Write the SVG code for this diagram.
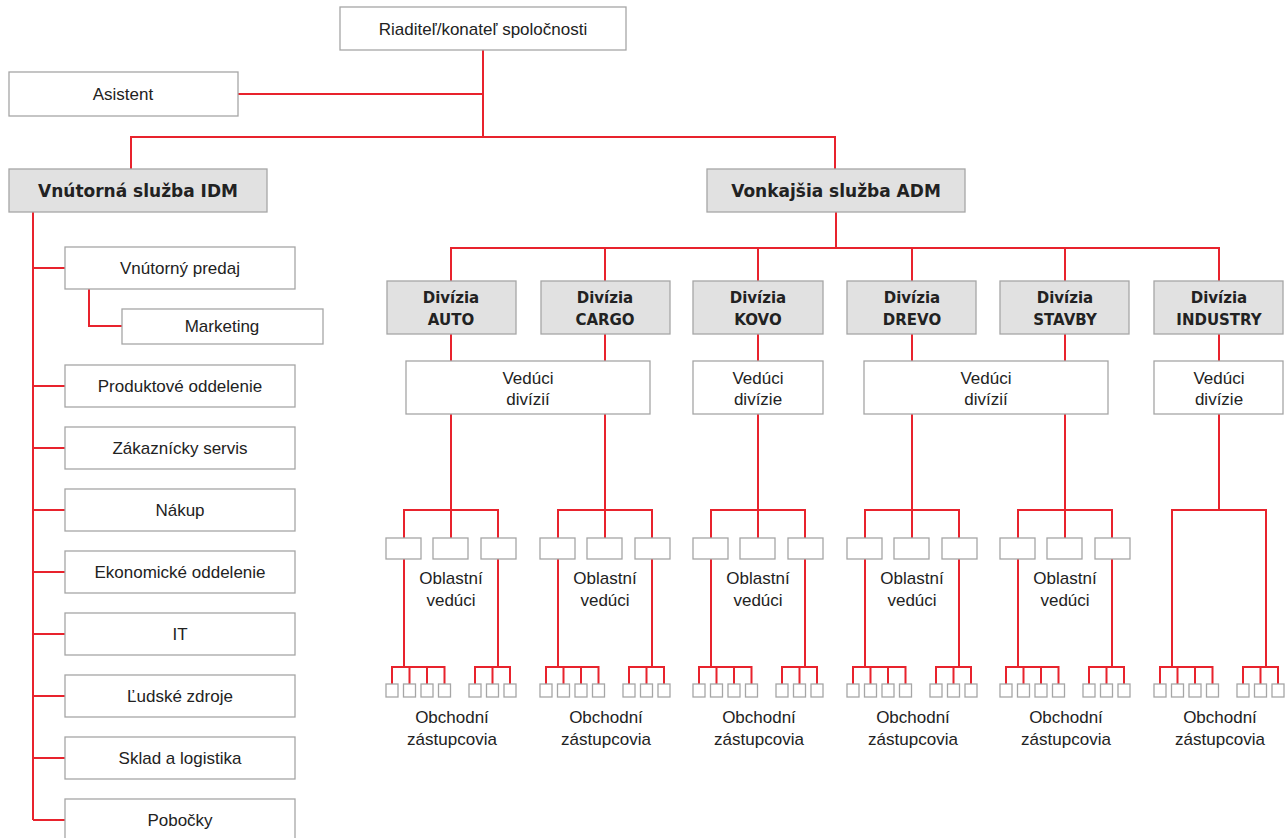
<svg xmlns="http://www.w3.org/2000/svg" width="1287" height="838" viewBox="0 0 1287 838">
<style>
.b{fill:#fff;stroke:#a6a6a6;stroke-width:1.3}
.g{fill:#e1e1e1;stroke:#a6a6a6;stroke-width:1.3}
.t{font-family:"Liberation Sans",Arial,sans-serif;font-size:17px;fill:#222;text-anchor:middle}
.h{font-family:"DejaVu Sans",sans-serif;font-weight:bold;font-size:17px;fill:#222;text-anchor:middle}
.d{font-family:"DejaVu Sans",sans-serif;font-weight:bold;font-size:15px;fill:#222;text-anchor:middle}
.c path{fill:none;stroke:#e8232d;stroke-width:2}
</style>
<rect width="1287" height="838" fill="#fff"/>
<g class="c" id="connectors">
<path d="M483 50V137M238 94H483M131 170V137H835V169"/>
<path d="M33 211V820M33 268H65M89 289V326H122M33 386H65M33 448H65M33 510H65M33 572H65M33 634H65M33 696H65M33 758H65M33 820H65"/>
<path d="M836 212V248M451 281V248H1219V281M605 248V281M758 248V281M912 248V281M1065 248V281"/>
<path d="M451 334V361M605 334V361M758 334V361M912 334V361M1065 334V361M1219 334V361"/>
<path d="M451 414V538M404 538V510H498V538M404 559V667M392 684V667H444.5V684M409.5 667V684M427 667V684M498 559V667M475 684V667H510V684M492.5 667V684"/>
<path d="M605 414V538M558 538V510H652V538M558 559V667M546 684V667H598.5V684M563.5 667V684M581 667V684M652 559V667M629 684V667H664V684M646.5 667V684"/>
<path d="M758 414V538M711 538V510H805V538M711 559V667M699 684V667H751.5V684M716.5 667V684M734 667V684M805 559V667M782 684V667H817V684M799.5 667V684"/>
<path d="M912 414V538M865 538V510H959V538M865 559V667M853 684V667H905.5V684M870.5 667V684M888 667V684M959 559V667M936 684V667H971V684M953.5 667V684"/>
<path d="M1065 414V538M1018 538V510H1112V538M1018 559V667M1006 684V667H1058.5V684M1023.5 667V684M1041 667V684M1112 559V667M1089 684V667H1124V684M1106.5 667V684"/>
<path d="M1219 414V510M1172 667V510H1266V667M1160 684V667H1212.5V684M1177.5 667V684M1195 667V684M1243 684V667H1278V684M1260.5 667V684"/>
</g>
<g id="riaditel"><rect class="b" x="340" y="7" width="286" height="43"/><text class="t" x="483" y="35">Riaditeľ/konateľ spoločnosti</text></g>
<g id="asistent"><rect class="b" x="9" y="72" width="229" height="44"/><text class="t" x="123" y="100">Asistent</text></g>
<g id="idm"><rect class="g" x="9" y="169" width="258" height="43"/><text class="h" x="138" y="197">Vnútorná služba IDM</text></g>
<g id="adm"><rect class="g" x="707" y="169" width="258" height="43"/><text class="h" x="836" y="197">Vonkajšia služba ADM</text></g>
<g id="vnutorny-predaj"><rect class="b" x="65" y="247" width="230" height="42"/><text class="t" x="180" y="274">Vnútorný predaj</text></g>
<g id="marketing"><rect class="b" x="122" y="309" width="201" height="35"/><text class="t" x="222" y="332">Marketing</text></g>
<g id="produktove"><rect class="b" x="65" y="365" width="230" height="42"/><text class="t" x="180" y="392">Produktové oddelenie</text></g>
<g id="zakaznicky"><rect class="b" x="65" y="427" width="230" height="42"/><text class="t" x="180" y="454">Zákaznícky servis</text></g>
<g id="nakup"><rect class="b" x="65" y="489" width="230" height="42"/><text class="t" x="180" y="516">Nákup</text></g>
<g id="ekonomicke"><rect class="b" x="65" y="551" width="230" height="42"/><text class="t" x="180" y="578">Ekonomické oddelenie</text></g>
<g id="it"><rect class="b" x="65" y="613" width="230" height="42"/><text class="t" x="180" y="640">IT</text></g>
<g id="ludske"><rect class="b" x="65" y="675" width="230" height="42"/><text class="t" x="180" y="702">Ľudské zdroje</text></g>
<g id="sklad"><rect class="b" x="65" y="737" width="230" height="42"/><text class="t" x="180" y="764">Sklad a logistika</text></g>
<g id="pobocky"><rect class="b" x="65" y="799" width="230" height="44"/><text class="t" x="180" y="826">Pobočky</text></g>

<g id="div-auto"><rect class="g" x="387" y="281" width="129" height="53"/><text class="d" x="451" y="303">Divízia</text><text class="d" x="451" y="325">AUTO</text></g>
<g id="div-cargo"><rect class="g" x="541" y="281" width="129" height="53"/><text class="d" x="605" y="303">Divízia</text><text class="d" x="605" y="325">CARGO</text></g>
<g id="div-kovo"><rect class="g" x="693" y="281" width="130" height="53"/><text class="d" x="758" y="303">Divízia</text><text class="d" x="758" y="325">KOVO</text></g>
<g id="div-drevo"><rect class="g" x="847" y="281" width="129" height="53"/><text class="d" x="912" y="303">Divízia</text><text class="d" x="912" y="325">DREVO</text></g>
<g id="div-stavby"><rect class="g" x="1000" y="281" width="129" height="53"/><text class="d" x="1065" y="303">Divízia</text><text class="d" x="1065" y="325">STAVBY</text></g>
<g id="div-industry"><rect class="g" x="1154" y="281" width="129" height="53"/><text class="d" x="1219" y="303">Divízia</text><text class="d" x="1219" y="325">INDUSTRY</text></g>

<g id="veduci-auto-cargo"><rect class="b" x="406" y="361" width="244" height="53"/><text class="t" x="528" y="384">Vedúci</text><text class="t" x="528" y="405">divízií</text></g>
<g id="veduci-kovo"><rect class="b" x="693" y="361" width="130" height="53"/><text class="t" x="758" y="384">Vedúci</text><text class="t" x="758" y="405">divízie</text></g>
<g id="veduci-drevo-stavby"><rect class="b" x="864" y="361" width="244" height="53"/><text class="t" x="986" y="384">Vedúci</text><text class="t" x="986" y="405">divízií</text></g>
<g id="veduci-industry"><rect class="b" x="1154" y="361" width="129" height="53"/><text class="t" x="1219" y="384">Vedúci</text><text class="t" x="1219" y="405">divízie</text></g>

<g id="oblastni-auto"><rect class="b" x="386" y="538" width="35" height="21"/><rect class="b" x="433" y="538" width="35" height="21"/><rect class="b" x="481" y="538" width="35" height="21"/><text class="t" x="451" y="584">Oblastní</text><text class="t" x="451" y="606">vedúci</text></g>
<g id="oblastni-cargo"><rect class="b" x="540" y="538" width="35" height="21"/><rect class="b" x="587" y="538" width="35" height="21"/><rect class="b" x="635" y="538" width="35" height="21"/><text class="t" x="605" y="584">Oblastní</text><text class="t" x="605" y="606">vedúci</text></g>
<g id="oblastni-kovo"><rect class="b" x="693" y="538" width="35" height="21"/><rect class="b" x="740" y="538" width="35" height="21"/><rect class="b" x="788" y="538" width="35" height="21"/><text class="t" x="758" y="584">Oblastní</text><text class="t" x="758" y="606">vedúci</text></g>
<g id="oblastni-drevo"><rect class="b" x="847" y="538" width="35" height="21"/><rect class="b" x="894" y="538" width="35" height="21"/><rect class="b" x="942" y="538" width="35" height="21"/><text class="t" x="912" y="584">Oblastní</text><text class="t" x="912" y="606">vedúci</text></g>
<g id="oblastni-stavby"><rect class="b" x="1000" y="538" width="35" height="21"/><rect class="b" x="1047" y="538" width="35" height="21"/><rect class="b" x="1095" y="538" width="35" height="21"/><text class="t" x="1065" y="584">Oblastní</text><text class="t" x="1065" y="606">vedúci</text></g>

<g id="obchodni-auto"><rect class="b" x="386" y="684" width="12" height="13"/><rect class="b" x="403.5" y="684" width="12" height="13"/><rect class="b" x="421" y="684" width="12" height="13"/><rect class="b" x="438.5" y="684" width="12" height="13"/><rect class="b" x="469" y="684" width="12" height="13"/><rect class="b" x="486.5" y="684" width="12" height="13"/><rect class="b" x="504" y="684" width="12" height="13"/><text class="t" x="452" y="723">Obchodní</text><text class="t" x="452" y="745">zástupcovia</text></g>
<g id="obchodni-cargo"><rect class="b" x="540" y="684" width="12" height="13"/><rect class="b" x="557.5" y="684" width="12" height="13"/><rect class="b" x="575" y="684" width="12" height="13"/><rect class="b" x="592.5" y="684" width="12" height="13"/><rect class="b" x="623" y="684" width="12" height="13"/><rect class="b" x="640.5" y="684" width="12" height="13"/><rect class="b" x="658" y="684" width="12" height="13"/><text class="t" x="606" y="723">Obchodní</text><text class="t" x="606" y="745">zástupcovia</text></g>
<g id="obchodni-kovo"><rect class="b" x="693" y="684" width="12" height="13"/><rect class="b" x="710.5" y="684" width="12" height="13"/><rect class="b" x="728" y="684" width="12" height="13"/><rect class="b" x="745.5" y="684" width="12" height="13"/><rect class="b" x="776" y="684" width="12" height="13"/><rect class="b" x="793.5" y="684" width="12" height="13"/><rect class="b" x="811" y="684" width="12" height="13"/><text class="t" x="759" y="723">Obchodní</text><text class="t" x="759" y="745">zástupcovia</text></g>
<g id="obchodni-drevo"><rect class="b" x="847" y="684" width="12" height="13"/><rect class="b" x="864.5" y="684" width="12" height="13"/><rect class="b" x="882" y="684" width="12" height="13"/><rect class="b" x="899.5" y="684" width="12" height="13"/><rect class="b" x="930" y="684" width="12" height="13"/><rect class="b" x="947.5" y="684" width="12" height="13"/><rect class="b" x="965" y="684" width="12" height="13"/><text class="t" x="913" y="723">Obchodní</text><text class="t" x="913" y="745">zástupcovia</text></g>
<g id="obchodni-stavby"><rect class="b" x="1000" y="684" width="12" height="13"/><rect class="b" x="1017.5" y="684" width="12" height="13"/><rect class="b" x="1035" y="684" width="12" height="13"/><rect class="b" x="1052.5" y="684" width="12" height="13"/><rect class="b" x="1083" y="684" width="12" height="13"/><rect class="b" x="1100.5" y="684" width="12" height="13"/><rect class="b" x="1118" y="684" width="12" height="13"/><text class="t" x="1066" y="723">Obchodní</text><text class="t" x="1066" y="745">zástupcovia</text></g>
<g id="obchodni-industry"><rect class="b" x="1154" y="684" width="12" height="13"/><rect class="b" x="1171.5" y="684" width="12" height="13"/><rect class="b" x="1189" y="684" width="12" height="13"/><rect class="b" x="1206.5" y="684" width="12" height="13"/><rect class="b" x="1237" y="684" width="12" height="13"/><rect class="b" x="1254.5" y="684" width="12" height="13"/><rect class="b" x="1272" y="684" width="12" height="13"/><text class="t" x="1220" y="723">Obchodní</text><text class="t" x="1220" y="745">zástupcovia</text></g>
</svg>
